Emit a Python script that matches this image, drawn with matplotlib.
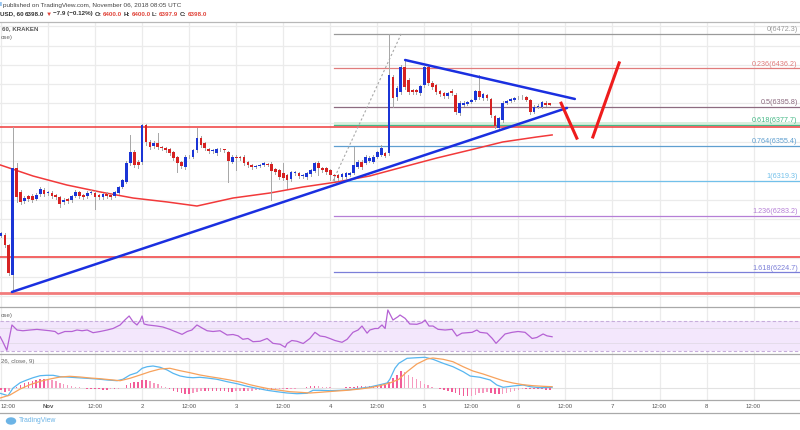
import matplotlib
matplotlib.use('Agg')
import matplotlib.pyplot as plt
import matplotlib.transforms as mtransforms
from matplotlib.lines import Line2D
from matplotlib.patches import Ellipse

plt.rcParams['font.family'] = ['Liberation Sans', 'DejaVu Sans']

W, H = 800, 430

# 시간 단위: 11월 1일 00:00 기준 시간(h), 1시간봉
first_hour = -12
opens = [6262.5, 6264, 6253, 6222, 6333, 6308, 6299, 6304, 6304, 6301, 6306, 6310,
         6307, 6307, 6305, 6303, 6297.8, 6301, 6300, 6304, 6308, 6305, 6304, 6307,
         6307, 6305, 6303, 6306, 6305, 6304, 6307, 6313, 6319, 6338, 6350, 6339,
         6339, 6377.6, 6360, 6356, 6359, 6355, 6354, 6353, 6350, 6344, 6339, 6334,
         6344.5, 6344.5, 6351.7, 6364, 6359, 6353, 6351, 6348.6, 6352.8, 6352, 6349.6, 6339.3,
         6344.5, 6344, 6344.5, 6339, 6336, 6334, 6335.5, 6336.5, 6337, 6337, 6332, 6331,
         6328, 6326, 6322, 6328, 6328, 6325, 6324, 6327, 6330, 6338, 6333, 6333,
         6331, 6326, 6326, 6323.7, 6324, 6326, 6328, 6334, 6339, 6338, 6340, 6339,
         6344.5, 6346.5, 6348.6, 6348.6, 6427.4, 6406.7, 6412, 6437.8, 6424, 6414, 6414, 6411,
         6419, 6437.8, 6421, 6419, 6413, 6411, 6408, 6413, 6409, 6390, 6398.4, 6399.4,
         6401.5, 6403.6, 6412.9, 6405.6, 6408.7, 6404.6, 6387, 6374.5, 6382.8, 6400.4, 6402.5, 6403.6,
         6406.7, 6406.2, 6406.7, 6403.6, 6391.1, 6396.3, 6396.3, 6400.4, 6400.0]
highs = [6267, 6266, 6254, 6376, 6338, 6310, 6304, 6305, 6306, 6307, 6313, 6312,
         6309, 6309, 6306, 6304, 6302, 6302, 6305, 6310, 6309, 6306, 6309, 6310,
         6309, 6306, 6307, 6308, 6306, 6309, 6314, 6322, 6340, 6367, 6352, 6341,
         6379, 6379, 6362, 6361, 6369, 6356, 6355, 6354, 6351, 6345, 6340, 6346,
         6346, 6353, 6375, 6366, 6360, 6354, 6353, 6354, 6354, 6353, 6351, 6346,
         6346, 6345, 6346, 6340, 6337, 6336, 6337, 6339, 6338, 6339, 6333, 6332,
         6338, 6327, 6330, 6330, 6329, 6327, 6329, 6332, 6339, 6340, 6334, 6334,
         6332, 6327, 6327, 6328, 6329, 6329, 6355, 6341, 6341, 6346, 6345, 6346,
         6351, 6357, 6350, 6472.3, 6429, 6418, 6440, 6444, 6426, 6415, 6415, 6419,
         6439, 6440, 6423, 6420, 6414, 6412, 6412, 6415, 6411, 6402, 6402, 6403,
         6405, 6414, 6429.5, 6411, 6410, 6406, 6388, 6386, 6402, 6404, 6406, 6407,
         6408, 6409, 6408, 6405, 6398, 6399, 6403, 6402, 6400.0]
lows = [6261, 6251, 6222, 6204.5, 6298, 6296, 6297, 6299, 6298, 6300, 6304, 6304,
        6305, 6302, 6301, 6293, 6296, 6297, 6298, 6303, 6302, 6301, 6302, 6306,
        6290.5, 6301, 6301, 6302, 6301, 6303, 6306, 6312, 6317, 6336, 6334, 6333,
        6337, 6357, 6353, 6354, 6353, 6352, 6350, 6347, 6341, 6329, 6333, 6332,
        6343, 6343, 6350, 6355, 6352, 6349, 6349, 6347, 6351, 6350, 6318.5, 6338,
        6331, 6341, 6336, 6334, 6332, 6333, 6334, 6335, 6335, 6300, 6327, 6322,
        6321, 6312, 6320, 6326, 6323, 6323, 6322, 6325, 6329, 6326, 6329, 6327,
        6321, 6319.3, 6321, 6322, 6322, 6325, 6327, 6333, 6332, 6337, 6339, 6338,
        6343, 6345, 6344, 6346, 6396, 6404, 6410, 6415, 6410, 6410, 6410, 6409,
        6417, 6419, 6415, 6410, 6408, 6406, 6406, 6409, 6389, 6388, 6397, 6398,
        6400, 6402, 6405, 6404, 6404, 6386, 6374.5, 6373.5, 6381, 6399, 6401, 6402,
        6405, 6405, 6402, 6389, 6390, 6395, 6395, 6397, 6397.9]
closes = [6265.6, 6253, 6224, 6333, 6303, 6298, 6302, 6301, 6300, 6305, 6311, 6306,
          6307.5, 6304, 6303, 6296, 6300, 6299, 6304, 6308, 6304, 6303, 6307, 6308,
          6303, 6303, 6306, 6304, 6303, 6308, 6313, 6321, 6338, 6350, 6336, 6336,
          6377.6, 6360, 6355, 6359, 6355, 6354, 6352, 6349, 6343, 6338, 6335, 6344.5,
          6344, 6351.7, 6364, 6357, 6354, 6351, 6352, 6352.8, 6352.3, 6351.5, 6340.3, 6344.5,
          6343.4, 6343, 6338.2, 6336, 6334, 6335, 6336, 6338, 6336.5, 6330, 6329, 6324,
          6323, 6321, 6329, 6329, 6325, 6325.5, 6328, 6331, 6338, 6333, 6331, 6329,
          6326, 6325, 6323, 6327, 6328, 6328, 6336, 6339, 6334, 6344.5, 6343.4, 6344.5,
          6349.6, 6353.8, 6345.5, 6429.5, 6405.6, 6416, 6437.8, 6417, 6412, 6412, 6412, 6418,
          6437.8, 6421, 6417, 6412, 6410, 6408, 6411, 6411, 6391, 6400.4, 6400.4, 6401.5,
          6403.6, 6412.9, 6406.7, 6409.8, 6405.6, 6388, 6376.6, 6384.9, 6400.4, 6402.5, 6404.6, 6405.6,
          6406.2, 6406.7, 6403.6, 6391.1, 6396.3, 6397.3, 6401.5, 6398.4, 6398.0]

# 이동평균선 (빨간선)
ma_hours = [-12.2, -3.8, 4.8, 13.3, 21.7, 30.4, 38, 47.2, 56.6, 65, 73.7, 82,
            90.6, 99.2, 107.7, 116, 124.7, 128.6]
ma_values = [6336.2, 6324.7, 6315.4, 6308.2, 6301.9, 6297.8, 6293.6, 6301.9, 6307.1,
             6313.3, 6318.5, 6324.7, 6334.1, 6343.4, 6351.7, 6360, 6365.2, 6367.3]

# 수평선 (빨간색)
resistance_levels = [6375.5, 6240.7]
support_level = 6203.4

# 피보나치 되돌림
fib_start_hour = 72.96
fib_ratios = ['0', '0.236', '0.5', '0.618', '0.764', '1', '1.236', '1.618']
fib_prices = [6472.3, 6436.2, 6395.8, 6377.7, 6355.4, 6319.3, 6283.2, 6224.7]
fib_colors = ['#9a9a9a', '#e07c7c', '#8d6b80', '#45b886', '#5f9fd0', '#72c0ea', '#b57fd6', '#7b7fd8']

# 추세선 / 화살표 (시간, 가격)
lower_trend = ([-9.2, 132.4], [6204.5, 6395.3])
upper_trend = ([91.1, 134.4], [6445.0, 6404.6])
arrow_down = ([130.9, 134.9], [6400.2, 6364.0])
arrow_up = ([139.0, 145.7], [6365.2, 6442.0])
fib_dash = ([72.7, 90.1], [6319.6, 6472.0])

# RSI
rsi_hours = [-12.2, -11.5, -10.5, -9.2, -7.9, -6.4, -4.6, -2.8, -1.3, 0.5, 1.8, 2.6,
             4.3, 6.1, 7.4, 8.7, 10.0, 11.5, 13.3, 15.1, 16.6, 18.4, 19.6, 20.7,
             21.7, 22.7, 23.5, 24.0, 24.5, 25.5, 27.8, 29.3, 31.1, 32.4, 34.2, 35.5,
             36.7, 38.0, 39.3, 40.6, 42.1, 43.9, 45.7, 47.2, 48.5, 49.7, 51.0, 52.3,
             54.1, 55.9, 57.4, 59.2, 60.5, 61.0, 62.2, 63.5, 65.1, 66.8, 68.1, 69.4,
             70.7, 71.9, 73.2, 75.0, 76.3, 77.8, 79.1, 80.1, 81.4, 82.1, 83.4, 84.2,
             85.2, 86.0, 86.7, 88.0, 89.3, 89.8, 91.1, 92.3, 94.1, 95.4, 96.2, 97.2,
             98.2, 99.5, 101.3, 103.1, 104.3, 105.6, 108.2, 109.4, 110.2, 112.0, 113.3, 114.3,
             115.3, 116.6, 118.4, 119.9, 121.7, 123.5, 124.7, 126.3, 127.3, 128.6]
rsi_values = [49, 42, 31, 64.7, 58, 57, 58, 58.8, 58, 57, 56, 52.7,
              56, 56, 58, 57, 58, 54.4, 56, 58, 60, 64.7, 71.3, 76.7,
              69, 64.7, 70.4, 76.7, 66, 64.7, 63.3, 62, 58.8, 56, 52.2, 56,
              58, 64.7, 60.7, 57, 56, 57, 51.3, 52, 50.2, 45.6, 46.7, 42.4,
              43, 46.7, 40.2, 39, 35, 40, 44, 43, 40, 46.7, 54.9, 50,
              49, 46.7, 44, 41.6, 45.6, 54.9, 58, 63.3, 53.8, 58, 60, 60,
              64.7, 60, 84.7, 71.3, 75.8, 78, 73.5, 66, 65.6, 67.8, 71.3, 63.3,
              63.3, 58.9, 58, 58.9, 50, 53.8, 54.9, 58, 54.9, 53.8, 46.9, 40.2,
              45.6, 52.7, 54.9, 56, 54.9, 46.7, 48, 52.7, 50.2, 49]

# MACD (12, 26, close, 9)
macd_hours = [-12.2, -10.2, -8.9, -7.1, -5.4, -3.8, -2.0, -0.3, 1.3, 3.1, 4.8, 7.4,
              9.9, 12.5, 15.1, 17.6, 19.1, 20.9, 22.7, 24.0, 25.3, 26.8, 28.6, 30.4,
              31.9, 33.7, 35.5, 37.0, 38.8, 40.6, 43.1, 45.7, 48.2, 50.8, 53.3, 55.9,
              58.4, 61.0, 63.5, 66.1, 67.6, 69.4, 71.9, 74.5, 77.0, 79.6, 82.1, 84.7,
              86.5, 87.2, 88.5, 89.5, 91.6, 94.1, 96.2, 98.2, 100.8, 103.3, 105.9, 107.7,
              110.2, 112.8, 114.5, 116.1, 118.6, 121.2, 123.0, 125.5, 128.6]
macd_values = [-5.3, -7.7, 0, 5.3, 8, 10.3, 12.3, 12.7, 12.7, 11.3, 11, 10.3,
               9.7, 9, 8, 7.3, 8.7, 13, 15.3, 19.7, 21.3, 22, 20.7, 18,
               14.7, 12, 10.7, 10.3, 10.7, 10, 8.7, 6.3, 4.3, 1.7, -0.3, -2.3,
               -3.7, -5, -5.7, -5.3, -2.3, -2.3, -2.7, -2.3, -1.7, -0.3, 1, 3.3,
               5, 8.7, 19.7, 24.7, 29.7, 30.3, 30.7, 28.7, 24.7, 21.3, 16.3, 12,
               10.7, 8, 3, 0.7, 2, 3, 1.3, 0.3, 0.7]
signal_hours = [-12.2, -9.7, -7.1, -4.6, -2.0, 0.5, 3.1, 5.6, 8.2, 10.7, 13.3, 15.8,
                18.4, 20.9, 23.5, 26.0, 28.6, 31.1, 33.7, 36.2, 38.8, 41.3, 43.9, 46.4,
                49.0, 51.5, 54.1, 56.6, 59.2, 61.7, 64.3, 66.8, 69.4, 72.7, 76.3, 79.6,
                82.1, 84.7, 87.2, 89.5, 91.6, 94.1, 96.7, 98.2, 100.8, 103.3, 105.9, 108.4,
                111.0, 113.5, 116.1, 118.6, 121.2, 123.7, 126.3, 128.6]
signal_values = [-10, -7, -1, 3.3, 6.7, 9, 11, 11.7, 11, 10, 9.3, 8.3,
                 7.3, 9.7, 13, 16.3, 19, 19.7, 17.3, 15.3, 13, 11.3, 9.7, 8,
                 6, 3.3, 1, -1, -2.3, -3.7, -4.3, -5, -4.3, -3.3, -2.3, -1,
                 0.3, 2.3, 5, 8.7, 16.3, 24, 29, 30, 28.7, 26.3, 21.3, 17,
                 14, 10.7, 7.3, 5, 3.3, 2.3, 1.7, 1.3]
hist_values = [-2, -4, -3, -1,
               1, 3, 5, 6, 7.5, 8.5, 9, 9,
               8.5, 8, 7, 5.5, 4, 3, 2, 1.3, 0.8, 0.3, -0.5, -1,
               -1.3, -1.3, -1.5, -1.5, -1.3, -1.3, -1, 0.5, 3, 5, 6, 6.5,
               8, 8.5, 7, 5.5, 4, 2.5, 1, -1, -2.5, -4, -5, -5.5,
               -5.5, -5, -3.5, -3, -3, -3, -3, -3.2, -3.2, -3.3, -3.5, -3.5,
               -3.3, -3, -3, -2.8, -2.5, -2.2, -2, -1.8, -1.5, -1.5, -1.3, -1.2,
               -1, -1, -0.8, -0.5, -0.3, 0.5, 1.5, 2, 2, 1.8, 1.5, 1.2,
               1, 0.5, 0.3, 0.5, 0.8, 1, 1.5, 1.8, 2, 1.8, 2, 2.5,
               3, 3.5, 3.5, 6, 10, 13, 16.7, 16, 13, 11, 9, 7,
               4, 3, 1.5, 0.5, -1, -2, -3, -4, -5, -6.5, -7.5, -8,
               -7.5, -6.5, -5, -4.5, -4, -4.5, -5.5, -6, -5.5, -4.5, -3.5, -2.5,
               -1.5, -1, -1, -1, -1.3, -1.3, -1.3, -1.5, -1.7]

# x축 라벨 (12시간 간격)
tick_hours = [-12, 0, 12, 24, 36, 48, 60, 72, 84, 96, 108, 120, 132, 144, 156, 168, 180]
tick_labels = ['12:00', 'Nov', '12:00', '2', '12:00', '3', '12:00', '4', '12:00',
               '5', '12:00', '6', '12:00', '7', '12:00', '8', '12:00']

PX_PER_HOUR = 3.92
X0_PX = 48
xmin = (0 - X0_PX) / PX_PER_HOUR
xmax = (W - X0_PX) / PX_PER_HOUR


def px_rect(top, bottom):
    return [0, 1 - bottom / H, 1, (bottom - top) / H]


fig = plt.figure(figsize=(W / 100, H / 100), dpi=100)
fig.patch.set_facecolor('white')

ax = fig.add_axes(px_rect(22, 307))
ax_rsi = fig.add_axes(px_rect(307, 354))
ax_macd = fig.add_axes(px_rect(354, 400))

GRID = '#ebebeb'
for a in (ax, ax_rsi, ax_macd):
    a.set_xlim(xmin, xmax)
    a.axis('off')
    for t in tick_hours:
        a.axvline(t, color=GRID, lw=0.9, zorder=0)

# ---- 메인 차트 ----
ax.set_ylim(6188.9, 6484.4)
for p in range(6200, 6481, 20):
    ax.axhline(p, color=GRID, lw=0.9, zorder=0)

ax.fill_between([fib_start_hour, xmax + 5], 6377.7, 6380.5, color='#d9efdf', lw=0, zorder=1)
for price, color, ratio in zip(fib_prices, fib_colors, fib_ratios):
    ax.plot([fib_start_hour, xmax + 5], [price, price], color=color, lw=0.9, zorder=1)
    ax.text(xmax - 0.6, price + 1.0, f'{ratio}({price:.1f})', color=color, fontsize=5.2,
            ha='right', va='bottom', zorder=2)

for lvl in resistance_levels:
    ax.axhline(lvl, color='#f03a3a', lw=1.1, zorder=2)
ax.axhline(support_level, color='#f27b7b', lw=2.0, zorder=2)

ax.plot(ma_hours, ma_values, color='#f2393a', lw=1.1, zorder=3)

for i, (o, h, l, c) in enumerate(zip(opens, highs, lows, closes)):
    x = first_hour + i
    ax.plot([x, x], [l, h], color='#a6a6a6', lw=0.7, zorder=4)
    color = '#1b35d6' if c >= o else '#d62222'
    body = max(abs(c - o), 0.9)
    ax.bar(x, body, bottom=min(o, c), width=0.7, color=color, lw=0, zorder=5)

ax.plot(*fib_dash, color='#a8a8a8', lw=0.8, ls=(0, (2, 2)), zorder=3)
ax.plot(*lower_trend, color='#1a2fe0', lw=1.8, zorder=6, solid_capstyle='round')
ax.plot(*upper_trend, color='#1a2fe0', lw=1.8, zorder=6, solid_capstyle='round')
ax.plot(*arrow_down, color='#ee1c1c', lw=2.2, zorder=6)
ax.plot(*arrow_up, color='#ee1c1c', lw=2.2, zorder=6)

# ---- RSI ----
ax_rsi.set_ylim(26, 88.67)
ax_rsi.axhspan(30, 70, color='#f3e7fc', lw=0, zorder=0)
for a_lvl in (40.7, 60.7):
    ax_rsi.axhline(a_lvl, color='#e4dcea', lw=0.7, zorder=1)
for a_lvl in (30, 70):
    ax_rsi.axhline(a_lvl, color='#c7aedb', lw=0.8, ls=(0, (3, 2)), zorder=1)
ax_rsi.plot(rsi_hours, rsi_values, color='#b562d4', lw=0.9, zorder=3)

# ---- MACD ----
ax_macd.set_ylim(-12, 34)
ax_macd.axhline(25, color=GRID, lw=0.8, zorder=0)
ax_macd.axhline(0, color='#e2e2e2', lw=0.8, zorder=0)
prev = 0
for i, v in enumerate(hist_values):
    col = '#f25c98' if abs(v) >= abs(prev) else '#f69abf'
    ax_macd.bar(first_hour + i, v, width=0.38, color=col, lw=0, zorder=2)
    prev = v
ax_macd.plot(macd_hours, macd_values, color='#57b6f0', lw=0.9, zorder=3)
ax_macd.plot(signal_hours, signal_values, color='#f7a25c', lw=0.9, zorder=3)

# ---- 패널 경계선 ----
for y_px, col in [(22, '#b8b8b8'), (307, '#a9a9a9'), (354, '#a9a9a9'),
                  (400, '#a9a9a9'), (413, '#a9a9a9')]:
    fig.add_artist(Line2D([0, 1], [1 - y_px / H] * 2, transform=fig.transFigure,
                          color=col, lw=0.9))

# ---- x축 라벨 ----
trans = mtransforms.blended_transform_factory(ax_macd.transData, fig.transFigure)
for t, lab in zip(tick_hours, tick_labels):
    ha = 'center'
    xt = t
    if t == tick_hours[0]:
        ha, xt = 'left', xmin + 0.1
    ax_macd.text(xt, 1 - 407 / H, lab, transform=trans, fontsize=4.3, color='#555555',
                 ha=ha, va='center', clip_on=False,
                 fontweight='bold' if lab == 'Nov' else 'normal')

# ---- 헤더 텍스트 ----
renderer = fig.canvas.get_renderer()


def chain_text(x_px, y_px, pieces, size):
    x = x_px
    for s, color, weight in pieces:
        t = fig.text(x / W, 1 - y_px / H, s, color=color, fontsize=size,
                     fontweight=weight, ha='left', va='center')
        x += t.get_window_extent(renderer).width + 1.4


chain_text(0, 5, [('l', '#2f8be0', 'bold'),
                  ('published on TradingView.com, November 06, 2018 08:05 UTC', '#444444', 'normal')], 4.6)
RED = '#e0443a'
chain_text(0, 14, [('USD, 60', '#333333', 'bold'), ('6398.0', '#333333', 'bold'),
                   ('▼', RED, 'normal'), ('\u22127.9 (\u22120.12%)', '#333333', 'bold'),
                   ('O:', '#333333', 'bold'), ('6400.0', RED, 'bold'),
                   ('H:', '#333333', 'bold'), ('6400.0', RED, 'bold'),
                   ('L:', '#333333', 'bold'), ('6397.9', RED, 'bold'),
                   ('C:', '#333333', 'bold'), ('6398.0', RED, 'bold')], 4.5)

fig.text(2 / W, 1 - 29 / H, '60, KRAKEN', fontsize=4.4, color='#555555',
         fontweight='bold', va='center')
fig.text(1 / W, 1 - 37 / H, 'ose)', fontsize=4.4, color='#666666', va='center')
fig.text(1 / W, 1 - 315 / H, 'ose)', fontsize=4.4, color='#666666', va='center')
fig.text(1 / W, 1 - 362 / H, '26, close, 9)', fontsize=4.4, color='#666666', va='center')

# TradingView 로고
fig.add_artist(Ellipse((11 / W, 1 - 421 / H), 9 / W, 6 / H, transform=fig.transFigure,
                       color='#6cb4e6'))
fig.text(19 / W, 1 - 421 / H, 'TradingView', fontsize=4.9, color='#6cb4e6', va='center')

fig.savefig('out.png', dpi=100, facecolor='white')
